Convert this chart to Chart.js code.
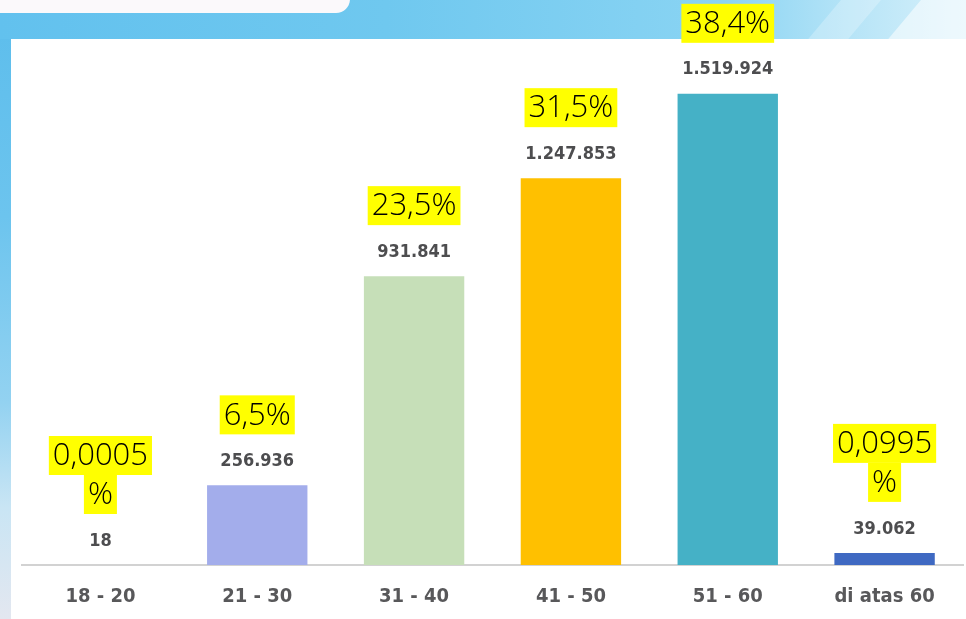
<!DOCTYPE html>
<html>
<head>
<meta charset="utf-8">
<script src="https://cdn.jsdelivr.net/npm/chart.js@4.4.1/dist/chart.umd.min.js"></script>
<style>
  html, body { margin: 0; padding: 0; width: 966px; height: 619px; overflow: hidden; }
  body {
    position: relative;
    background: linear-gradient(180deg, #5cbdec 0%, #6cc4ee 35%, #93d2f1 65%, #c9e5f4 82%, #e3e7f0 100%);
  }
  #topband {
    position: absolute; left: 0; top: 0; width: 966px; height: 39px;
    background: linear-gradient(90deg, #62c1ee 0%, #6fc8ef 40%, #8ad4f3 75%, #b6e4f7 88%, #d8f1fb 100%);
    overflow: hidden;
  }
  .stripe { position: absolute; top: -10px; height: 70px; transform: skewX(-40deg); }
  #s1 { left: 820px; width: 40px; background: rgba(255,255,255,0.25); }
  #s2 { left: 900px; width: 120px; background: rgba(255,255,255,0.55); }
  #tl {
    position: absolute; left: -20px; top: -20px; width: 370px; height: 33px;
    background: #fbf9fb; border-radius: 0 0 14px 0;
  }
  #panel { position: absolute; left: 11px; top: 39px; width: 955px; height: 580px; background: #ffffff; }
  #c { position: absolute; left: 0; top: 0; }
</style>
</head>
<body>
<div id="topband"><div class="stripe" id="s1"></div><div class="stripe" id="s2"></div><div id="tl"></div></div>
<div id="panel"></div>
<canvas id="c" width="966" height="619"></canvas>
<script>
// ---- data ----
const categories = ['18 - 20', '21 - 30', '31 - 40', '41 - 50', '51 - 60', 'di atas 60'];
const voters = [18, 256936, 931841, 1247853, 1519924, 39062];
const valueLabels = ['18', '256.936', '931.841', '1.247.853', '1.519.924', '39.062'];
const percentLabels = [['0,0005', '%'], ['6,5%'], ['23,5%'], ['31,5%'], ['38,4%'], ['0,0995', '%']];
const barColors = ['#b9b9b9', '#a3adeb', '#c6dfb8', '#ffc000', '#45b1c6', '#3f69c2'];

const labelPlugin = {
  id: 'labels',
  afterDatasetsDraw(chart) {
    const ctx = chart.ctx;
    const meta = chart.getDatasetMeta(0);
    ctx.save();
    meta.data.forEach((el, i) => {
      const x = el.x;
      const top = Math.min(el.y, el.base);
      const valueCenter = top - 24;
      ctx.font = "bold 18px 'DejaVu Sans Condensed', 'DejaVu Sans', sans-serif";
      ctx.fillStyle = '#4d4d4f';
      ctx.textAlign = 'center';
      ctx.textBaseline = 'middle';
      ctx.fillText(valueLabels[i], x, valueCenter);

      const lines = percentLabels[i];
      const lh = 39;
      const lastBottom = valueCenter - 27;
      ctx.font = "300 31px 'Open Sans', sans-serif";
      lines.forEach((t, j) => {
        const boxTop = lastBottom - (lines.length - j) * lh;
        const w = ctx.measureText(t).width + 8;
        ctx.fillStyle = '#ffff00';
        ctx.fillRect(x - w / 2, boxTop, w, lh);
        ctx.fillStyle = '#000000';
        ctx.fillText(t, x, boxTop + lh / 2 + 1);
      });
    });
    ctx.restore();
  }
};

new Chart(document.getElementById('c'), {
  type: 'bar',
  data: {
    labels: categories,
    datasets: [{
      data: voters,
      backgroundColor: barColors,
      borderWidth: 0,
      barPercentage: 0.64,
      categoryPercentage: 1.0
    }]
  },
  options: {
    responsive: false,
    animation: false,
    devicePixelRatio: 1,
    layout: { padding: { left: 22, right: 3, top: 38, bottom: 0 } },
    plugins: { legend: { display: false }, tooltip: { enabled: false } },
    scales: {
      x: {
        grid: { display: false, drawTicks: false },
        border: { display: true, color: '#d2d2d2', width: 2 },
        ticks: {
          color: '#58585a',
          padding: 20,
          font: { family: "'DejaVu Sans Condensed', 'DejaVu Sans', sans-serif", size: 20, weight: 'bold' }
        },
        afterFit(s) { s.height = 54; }
      },
      y: { display: false, min: 0, max: 1700000 }
    }
  },
  plugins: [labelPlugin]
});
</script>
</body>
</html>
